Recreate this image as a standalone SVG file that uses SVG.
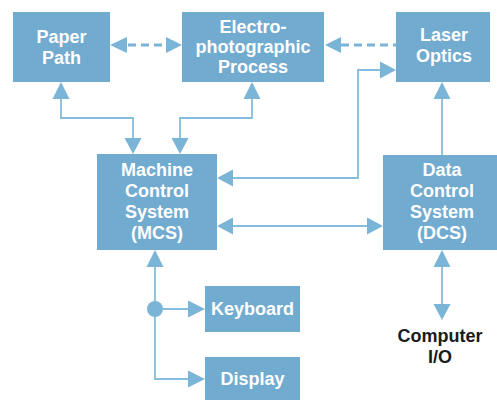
<svg xmlns="http://www.w3.org/2000/svg" width="497" height="402" viewBox="0 0 497 402">
<style>
.box{fill:#72abd0}
.lbl{font-family:"Liberation Sans",Arial,sans-serif;font-weight:bold;font-size:18px;fill:#fff;text-anchor:middle}
.ext{font-family:"Liberation Sans",Arial,sans-serif;font-weight:bold;font-size:18px;fill:#1a1a1a;text-anchor:middle}
.ln{fill:none;stroke:#85bddc;stroke-width:1.8}
.dash{fill:none;stroke:#7ab4d6;stroke-width:3;stroke-dasharray:8,5}
.ah{fill:#7ab4d6}
</style>
<rect width="497" height="402" fill="#fff"/>
<g id="connectors">
  <line class="dash" x1="128" y1="45" x2="167" y2="45"/>
  <polygon class="ah" points="110,45 127,37 127,53"/>
  <polygon class="ah" points="182,45 166,37 166,53"/>
  <line class="dash" x1="341" y1="45" x2="396" y2="45"/>
  <polygon class="ah" points="325,45 341,37 341,53"/>
  <polyline class="ln" points="61,98 61,118 133,118 133,139"/>
  <polygon class="ah" points="61,82 52.5,99 69.5,99"/>
  <polygon class="ah" points="133,154 124.5,138 141.5,138"/>
  <polyline class="ln" points="252,98 252,118 180,118 180,139"/>
  <polygon class="ah" points="252,82 243.5,99 260.5,99"/>
  <polygon class="ah" points="180,154 171.5,138 188.5,138"/>
  <polyline class="ln" points="232,178 358,178 358,70 381,70"/>
  <polygon class="ah" points="217,178 233,169.5 233,186.5"/>
  <polygon class="ah" points="396,70 380,61.5 380,78.5"/>
  <line class="ln" x1="232" y1="226" x2="368" y2="226"/>
  <polygon class="ah" points="217,226 233,217.5 233,234.5"/>
  <polygon class="ah" points="383,226 367,217.5 367,234.5"/>
  <line class="ln" x1="442" y1="155" x2="442" y2="98"/>
  <polygon class="ah" points="442,82 433.5,99 450.5,99"/>
  <line class="ln" x1="442" y1="266" x2="442" y2="306"/>
  <polygon class="ah" points="442,250 433.5,267 450.5,267"/>
  <polygon class="ah" points="442,320 433.5,304 450.5,304"/>
  <polyline class="ln" points="155,266 155,379 188,379"/>
  <line class="ln" x1="155" y1="309" x2="188" y2="309"/>
  <polygon class="ah" points="155,250 146.5,267 163.5,267"/>
  <circle class="ah" cx="155" cy="309" r="8"/>
  <polygon class="ah" points="205,309 188,300.5 188,317.5"/>
  <polygon class="ah" points="205,379 188,370.5 188,387.5"/>
</g>
<g id="paper-path">
  <rect class="box" x="13" y="12" width="97" height="70"/>
  <text class="lbl" x="61.5" y="43">Paper</text>
  <text class="lbl" x="61.5" y="64">Path</text>
</g>
<g id="electro">
  <rect class="box" x="182" y="12" width="142" height="70"/>
  <text class="lbl" x="253" y="33">Electro-</text>
  <text class="lbl" x="253" y="53">photographic</text>
  <text class="lbl" x="253" y="73">Process</text>
</g>
<g id="laser">
  <rect class="box" x="396" y="12" width="94" height="70"/>
  <text class="lbl" x="444" y="41">Laser</text>
  <text class="lbl" x="444" y="62">Optics</text>
</g>
<g id="mcs">
  <rect class="box" x="97" y="154" width="120" height="96"/>
  <text class="lbl" x="157" y="176">Machine</text>
  <text class="lbl" x="157" y="197">Control</text>
  <text class="lbl" x="157" y="218">System</text>
  <text class="lbl" x="157" y="239">(MCS)</text>
</g>
<g id="dcs">
  <rect class="box" x="383" y="155" width="114" height="95"/>
  <text class="lbl" x="442" y="176">Data</text>
  <text class="lbl" x="442" y="197">Control</text>
  <text class="lbl" x="442" y="218">System</text>
  <text class="lbl" x="442" y="239">(DCS)</text>
</g>
<g id="keyboard">
  <rect class="box" x="205" y="286" width="95" height="46"/>
  <text class="lbl" x="252.5" y="315">Keyboard</text>
</g>
<g id="display">
  <rect class="box" x="205" y="357" width="95" height="43"/>
  <text class="lbl" x="252.5" y="385">Display</text>
</g>
<g id="computer-io">
  <text class="ext" x="440" y="342">Computer</text>
  <text class="ext" x="440" y="363">I/O</text>
</g>
</svg>
